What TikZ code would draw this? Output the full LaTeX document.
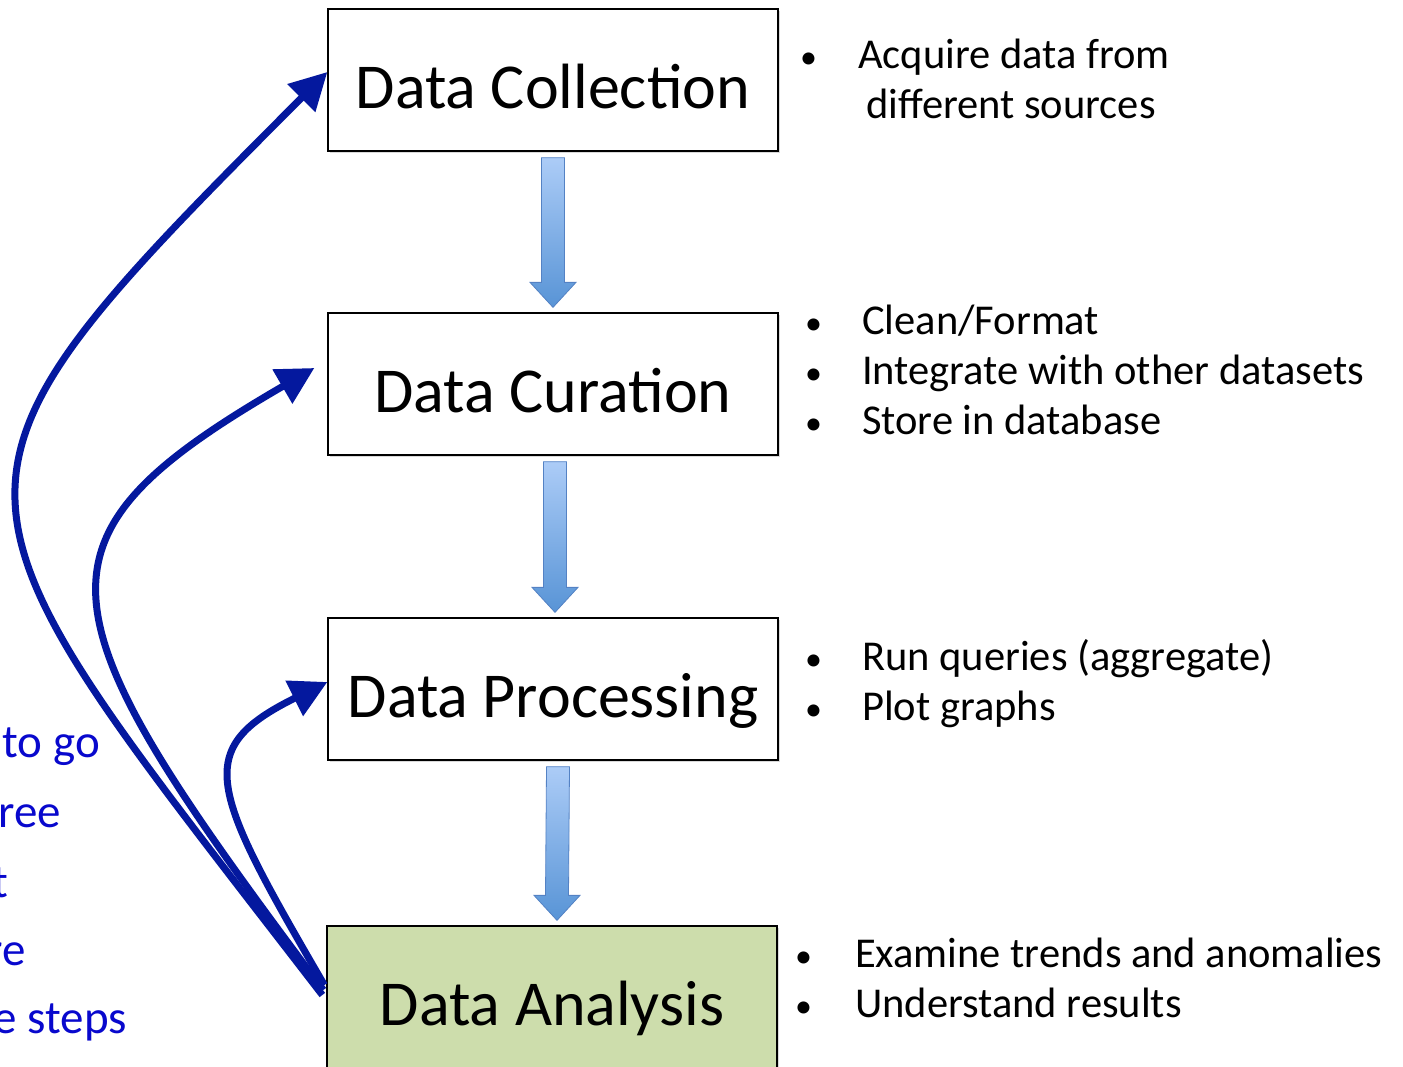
\documentclass[tikz,border=0pt]{standalone}
\usepackage{fontspec}
\setmainfont{Carlito}
\usepackage{tikz}
\usetikzlibrary{calc, arrows.meta, shadows}
\usepackage{xcolor}

\definecolor{loopblue}{RGB}{4,24,158}
\definecolor{noteblue}{RGB}{8,8,205}
\definecolor{stagegreen}{RGB}{205,221,172}
\definecolor{flowtop}{RGB}{172,204,247}
\definecolor{flowbot}{RGB}{88,148,214}
\definecolor{flowedge}{RGB}{84,130,196}

\tikzset{
  stage/.style={draw=black, line width=1.3pt, fill=white, minimum width=450pt,
    minimum height=142pt, inner sep=0pt, text height=56pt, text depth=0pt,
    font=\fontsize{64}{70}\selectfont,
    drop shadow={shadow xshift=2pt, shadow yshift=-2pt, opacity=0.3}},
  info/.style={anchor=base west, inner sep=0pt, font=\fontsize{42.5}{50}\selectfont},
  note/.style={anchor=base east, inner sep=0pt, text=noteblue, font=\fontsize{47}{69}\selectfont},
  loopback/.style={draw=loopblue, line width=7pt, -{Triangle[length=37pt,width=38pt]}},
  flow/.style={draw=flowedge, line width=0.8pt, top color=flowtop, bottom color=flowbot}
}

\newcommand{\flowdown}[3]{%
  \path[flow] ($(#1.south)+(#3-11.5,6)$) -- ($(#2.north)+(#3-11.5,-30)$)
    -- ($(#2.north)+(#3-23,-30)$) -- ($(#2.north)+(#3,-5)$)
    -- ($(#2.north)+(#3+23,-30)$) -- ($(#2.north)+(#3+11.5,-30)$)
    -- ($(#1.south)+(#3+11.5,6)$) -- cycle;}

\newcommand{\bul}[1]{\makebox[#1][l]{\fontsize{34}{34}\selectfont\textbullet}}

\begin{document}
\begin{tikzpicture}[x=1pt, y=-1pt]
  \path[use as bounding box, clip] (0,0) rectangle (1403,1066);

  % stages
  \node[stage] (coll) at (553,80) {Data Collection};
  \node[stage] (cur) at (553,384) {Data Curation};
  \node[stage] (proc) at (553,689) {Data Processing};
  \node[stage, fill=stagegreen] (anal) at (552,997) {Data Analysis};

  % flow between stages
  \flowdown{coll}{cur}{0}
  \flowdown{cur}{proc}{2}
  \flowdown{proc}{anal}{5}

  % going back
  \draw[loopback] ($(anal.west)+(-4,-2)$) .. controls (-73,482) and (-95,495) .. ($(coll.west)+(0,-8)$);
  \draw[loopback] ($(anal.west)+(-3,-7)$) .. controls (36,607) and (18,540) .. ($(cur.west)+(-13,-16)$);
  \draw[loopback] ($(anal.west)+(-2,-12)$) .. controls (209,787) and (192,749) .. ($(proc.west)+(0,-7)$);

  % bullets
  \node[info] (collinfo) at (800,68) {\begin{tabular}[t]{@{}l@{}}
      \bul{58pt}Acquire data from\\
      \hspace{66pt}different sources\end{tabular}};
  \node[info] (curinfo) at (805,334) {\begin{tabular}[t]{@{}l@{}}
      \bul{57pt}Clean/Format\\
      \bul{57pt}Integrate with other datasets\\
      \bul{57pt}Store in database\end{tabular}};
  \node[info] (procinfo) at (805,670) {\begin{tabular}[t]{@{}l@{}}
      \bul{57pt}Run queries (aggregate)\\
      \bul{57pt}Plot graphs\end{tabular}};
  \node[info] (analinfo) at (795,967) {\begin{tabular}[t]{@{}l@{}}
      \bul{60pt}Examine trends and anomalies\\
      \bul{60pt}Understand results\end{tabular}};

  % side note, cut at the edge
  \node[note] (note1) at (100,757) {to go};
  \node[note] (note2) at (61,827) {ree};
  \node[note] (note3) at (8,897) {t};
  \node[note] (note4) at (26,965) {re};
  \node[note] (note5) at (127,1033) {e steps};
\end{tikzpicture}
\end{document}
